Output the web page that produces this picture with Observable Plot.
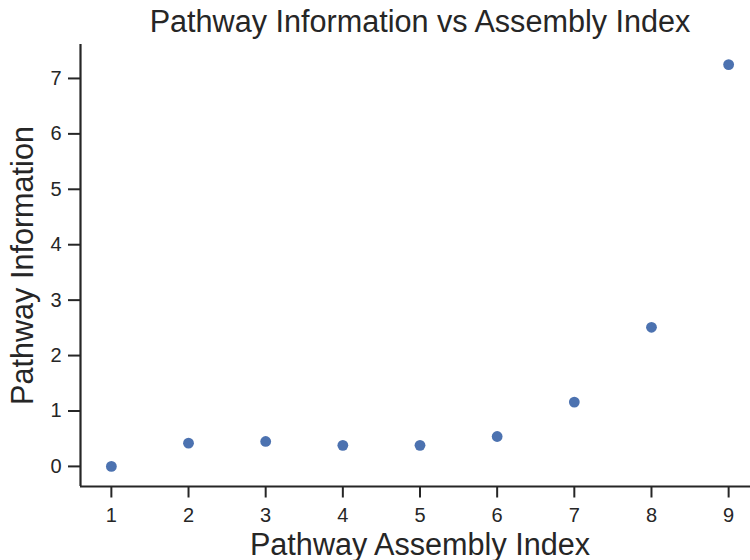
<!DOCTYPE html>
<html>
<head>
<meta charset="utf-8">
<script src="https://cdn.jsdelivr.net/npm/d3@7"></script>
<script src="https://cdn.jsdelivr.net/npm/@observablehq/plot@0.6"></script>
<style>
  html, body { margin: 0; padding: 0; background: #fff; overflow: hidden; }
  #chart svg { display: block; max-width: none !important; }
</style>
</head>
<body>
<div id="chart"></div>
<script>
const assemblyIndex = [1, 2, 3, 4, 5, 6, 7, 8, 9];
const pathwayInfo = [0.0, 0.42, 0.45, 0.38, 0.38, 0.54, 1.16, 2.51, 7.25];
const xTicks = [1, 2, 3, 4, 5, 6, 7, 8, 9];
const yTicks = [0, 1, 2, 3, 4, 5, 6, 7];
const titleText = "Pathway Information vs Assembly Index";
const xLabel = "Pathway Assembly Index";
const yLabel = "Pathway Information";

const data = assemblyIndex.map((x, i) => ({x, y: pathwayInfo[i]}));
const ink = "#262626";
const xDomain = [0.6, 9.4];
const yDomain = [-0.3625, 7.6125];
const font = "'Liberation Sans', Arial, sans-serif";

const chart = Plot.plot({
  width: 759,
  height: 560,
  marginLeft: 80,
  marginRight: 0,
  marginTop: 44,
  marginBottom: 74,
  style: {fontFamily: font, background: "#fff", color: ink, overflow: "visible", maxWidth: "none"},
  x: {domain: xDomain},
  y: {domain: yDomain},
  marks: [
    Plot.axisX({ticks: xTicks, tickSize: 11.5, tickFormat: () => "", label: null, stroke: ink, strokeWidth: 2}),
    Plot.axisY({ticks: yTicks, tickSize: 12, tickFormat: () => "", label: null, stroke: ink, strokeWidth: 2}),
    Plot.text(xTicks, {x: d => d, text: d => String(d), frameAnchor: "bottom", dy: 21, lineAnchor: "top", fontSize: 20, fill: ink}),
    Plot.text(yTicks, {y: d => d, text: d => String(d), frameAnchor: "left", dx: -19, textAnchor: "end", lineAnchor: "middle", fontSize: 20, fill: ink}),
    Plot.ruleX([xDomain[0]], {stroke: ink, strokeWidth: 2.2}),
    Plot.ruleY([yDomain[0]], {stroke: ink, strokeWidth: 2.2}),
    Plot.dot(data, {x: "x", y: "y", r: 5.4, fill: "#4c72b0", stroke: "none"}),
    Plot.text([titleText], {text: d => d, frameAnchor: "top", dy: -22, fontSize: 30.6, fill: ink, lineAnchor: "middle"}),
    Plot.text([xLabel], {text: d => d, frameAnchor: "bottom", dy: 58.5, fontSize: 30.6, fill: ink, lineAnchor: "middle"}),
    Plot.text([yLabel], {text: d => d, frameAnchor: "left", dx: -57, rotate: -90, textAnchor: "middle", fontSize: 30.6, fill: ink, lineAnchor: "middle"})
  ]
});
document.getElementById("chart").appendChild(chart);
</script>
</body>
</html>
